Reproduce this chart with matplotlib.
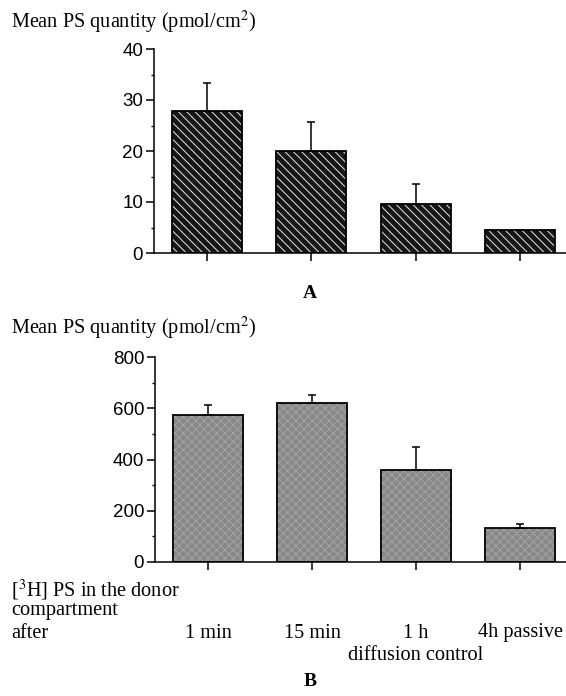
import matplotlib
matplotlib.use("Agg")
import matplotlib.pyplot as plt
import numpy as np

# ---- data ----
groups = ["1 min", "15 min", "1 h", "4h passive"]
a_means = [27.8, 20.0, 9.6, 4.5]
a_err_up = [5.5, 5.7, 3.9, 0.0]
b_means = [574, 622, 359, 133]
b_err_up = [39, 28, 90, 15]
a_yticks = [0, 10, 20, 30, 40]
b_yticks = [0, 200, 400, 600, 800]

W, H = 566, 696
plt.rcParams['mathtext.fontset'] = 'stix'
plt.rcParams['hatch.linewidth'] = 0.7
fig = plt.figure(figsize=(W / 100, H / 100), dpi=100)

SERIF = 'Liberation Serif'
SANS = 'Liberation Sans'
FS = 14.6


def fx(px):
    return px / W


def fy(py):
    return 1 - py / H


def style_axes(ax, yticks, minor_step):
    x = np.arange(len(groups))
    ax.set_xlim(-0.508, 3.44)
    ax.set_ylim(yticks[0], yticks[-1])
    ax.set_yticks(yticks)
    ax.set_yticks(np.arange(yticks[0] + minor_step, yticks[-1], minor_step * 2), minor=True)
    ax.set_xticks(x)
    ax.set_xticklabels([])
    for s in ['top', 'right']:
        ax.spines[s].set_visible(False)
    for s in ['left', 'bottom']:
        ax.spines[s].set_linewidth(1.1)
    ax.tick_params(axis='y', which='major', direction='out', length=5.8, width=1.1, pad=2,
                   labelsize=13.5)
    ax.tick_params(axis='y', which='minor', direction='out', length=2.2, width=1.0)
    ax.tick_params(axis='x', which='major', direction='out', length=5.8, width=1.1)
    for lab in ax.get_yticklabels():
        lab.set_fontfamily(SANS)
    ax.set_facecolor('none')


# ---- panel A ----
axA = fig.add_axes([fx(154), fy(253), fx(566) - fx(154), (253 - 49) / H])
xA = np.arange(len(groups))
axA.bar(xA, a_means, width=0.67, color='#161616', edgecolor='#e8e8e8', linewidth=0,
        hatch='\\\\\\\\', zorder=2)
axA.bar(xA, a_means, width=0.67, fill=False, edgecolor='black', linewidth=1.3, zorder=3)
axA.errorbar(xA, a_means, yerr=[np.zeros(len(a_means)), a_err_up], fmt='none',
             ecolor='black', elinewidth=1.1, capsize=3.2, capthick=1.1, zorder=4)
style_axes(axA, a_yticks, 5)

# ---- panel B ----
axB = fig.add_axes([fx(155), fy(562), fx(566) - fx(155), (562 - 357) / H])
xB = np.arange(len(groups))
axB.bar(xB, b_means, width=0.67, color='#888888', edgecolor='#a4a4a4', linewidth=0,
        hatch='xxxx', zorder=2)
axB.bar(xB, b_means, width=0.67, fill=False, edgecolor='black', linewidth=1.3, zorder=3)
axB.errorbar(xB, b_means, yerr=[np.zeros(len(b_means)), b_err_up], fmt='none',
             ecolor='black', elinewidth=1.1, capsize=3.2, capthick=1.1, zorder=4)
style_axes(axB, b_yticks, 100)

# ---- texts ----
ylab = "Mean PS quantity (pmol/cm$^{2}$)"
fig.text(fx(11), fy(22), ylab, family=SERIF, fontsize=FS, ha='left', va='center')
fig.text(fx(11), fy(328), ylab, family=SERIF, fontsize=FS, ha='left', va='center')
fig.text(fx(310), fy(294), "A", family=SERIF, fontsize=14, fontweight='bold', ha='center', va='center')
fig.text(fx(310), fy(682), "B", family=SERIF, fontsize=14, fontweight='bold', ha='center', va='center')

fig.text(fx(11), fy(590), "[$^{3}$H] PS in the donor", family=SERIF, fontsize=FS, ha='left', va='center')
fig.text(fx(11), fy(611), "compartment", family=SERIF, fontsize=FS, ha='left', va='center')
fig.text(fx(11), fy(633), "after", family=SERIF, fontsize=FS, ha='left', va='center')

# group labels placed under the ticks of panel B
for i, g in enumerate(groups):
    xd = axB.transData.transform((i, 0))[0]
    fig.text(xd / W, fy(633), g, family=SERIF, fontsize=FS, ha='center', va='center')
xd2 = axB.transData.transform((2, 0))[0]
fig.text(xd2 / W, fy(655), "diffusion control", family=SERIF, fontsize=FS, ha='center', va='center')

fig.savefig("out.png", dpi=100)
